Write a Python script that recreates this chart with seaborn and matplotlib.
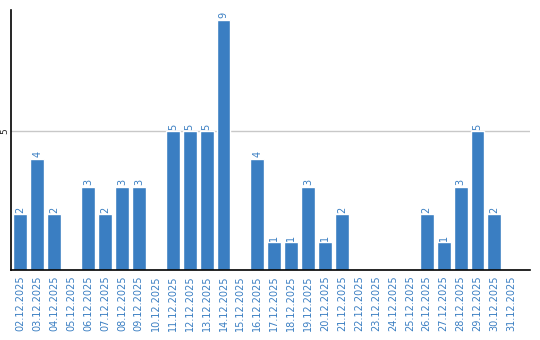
import matplotlib
matplotlib.use("Agg")
import matplotlib.pyplot as plt
import seaborn as sns
import pandas as pd

dates = ["02.12.2025", "03.12.2025", "04.12.2025", "05.12.2025", "06.12.2025",
         "07.12.2025", "08.12.2025", "09.12.2025", "10.12.2025", "11.12.2025",
         "12.12.2025", "13.12.2025", "14.12.2025", "15.12.2025", "16.12.2025",
         "17.12.2025", "18.12.2025", "19.12.2025", "20.12.2025", "21.12.2025",
         "22.12.2025", "23.12.2025", "24.12.2025", "25.12.2025", "26.12.2025",
         "27.12.2025", "28.12.2025", "29.12.2025", "30.12.2025", "31.12.2025"]
values = [2, 4, 2, 0, 3, 2, 3, 3, 0, 5,
          5, 5, 9, 0, 4, 1, 1, 3, 1, 2,
          0, 0, 0, 0, 2, 1, 3, 5, 2, 0]

df = pd.DataFrame({"date": dates, "value": values})

sns.set_style("white")
bar_color = "#3a7ec2"

fig = plt.figure(figsize=(5.4, 3.4), dpi=100)
ax = fig.add_axes([11 / 540, 70 / 340, 519 / 540, 260 / 340])

sns.barplot(data=df, x="date", y="value", color=bar_color, saturation=1,
            width=0.82, ax=ax)

for cont in ax.containers:
    labels = [str(int(v)) if v > 0 else "" for v in cont.datavalues]
    ax.bar_label(cont, labels=labels, rotation=90, color=bar_color,
                 fontsize=7, padding=1)

ax.set_xlim(-0.55, 30.1)
ax.set_ylim(0, 9.35)
ax.set_yticks([5])
ax.set_yticklabels(["5"], rotation=90, va="center", fontsize=6.5)
ax.yaxis.grid(True, color="#c8c8c8", linewidth=1)
ax.set_axisbelow(True)
ax.tick_params(axis="x", rotation=90, labelsize=7, labelcolor=bar_color,
               length=0, pad=4)
ax.tick_params(axis="y", length=0, pad=1)
ax.set_xlabel("")
ax.set_ylabel("")

for s in ["top", "right"]:
    ax.spines[s].set_visible(False)
for s in ["left", "bottom"]:
    ax.spines[s].set_color("black")
    ax.spines[s].set_linewidth(1.2)

fig.savefig("out.png", dpi=100)
